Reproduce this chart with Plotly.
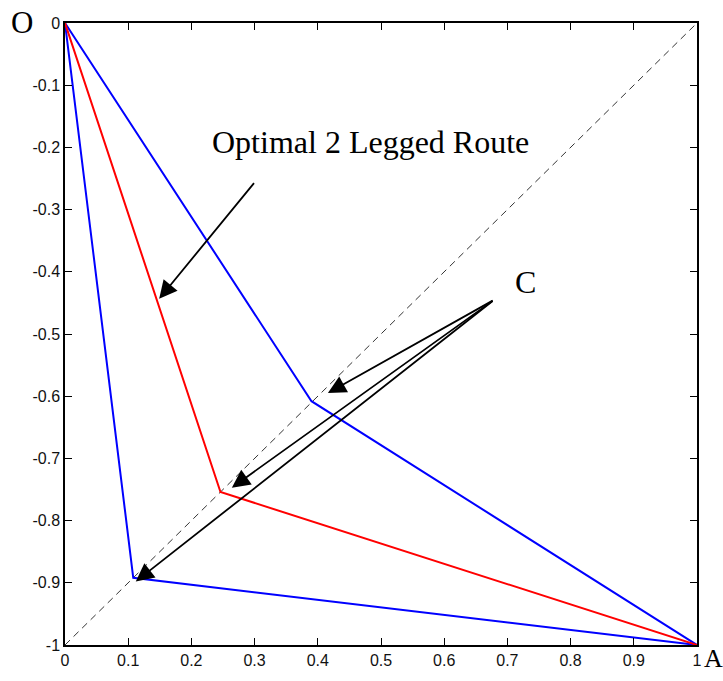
import plotly.graph_objects as go

# Data
blue_x = [0, 0.39, 1.0, 0.108, 0]
blue_y = [0, -0.608, -1.0, -0.892, 0]
red_x = [0, 0.246, 1.0]
red_y = [0, -0.754, -1.0]
diag_x = [0, 1]
diag_y = [-1, 0]

x_ticks = [0, 0.1, 0.2, 0.3, 0.4, 0.5, 0.6, 0.7, 0.8, 0.9, 1]
x_ticktext = ["0", "0.1", "0.2", "0.3", "0.4", "0.5", "0.6", "0.7", "0.8", "0.9", "1"]
y_ticks = [0, -0.1, -0.2, -0.3, -0.4, -0.5, -0.6, -0.7, -0.8, -0.9, -1]
y_ticktext = ["0", "-0.1", "-0.2", "-0.3", "-0.4", "-0.5", "-0.6", "-0.7", "-0.8", "-0.9", "-1"]

# Arrows: (tail_x, tail_y, tip_x, tip_y)
route_arrow = (0.301, -0.255, 0.149, -0.4435)
c_tail = (0.679, -0.445)
c_tips_x = [0.416, 0.264, 0.112]
c_tips_y = [-0.595, -0.747, -0.898]

fig = go.Figure()
fig.add_trace(go.Scatter(x=diag_x, y=diag_y, mode="lines",
                         line=dict(color="black", width=0.8, dash="7px,5px"),
                         hoverinfo="skip", showlegend=False))
fig.add_trace(go.Scatter(x=blue_x, y=blue_y, mode="lines",
                         line=dict(color="#0000FF", width=2),
                         showlegend=False))
fig.add_trace(go.Scatter(x=red_x, y=red_y, mode="lines",
                         line=dict(color="#FF0000", width=2),
                         showlegend=False))

serif = "Liberation Serif, Times New Roman, serif"
annotations = []
def arrow(tx, ty, hx, hy):
    return dict(x=hx, y=hy, ax=tx, ay=ty, xref="x", yref="y", axref="x", ayref="y",
                text="", showarrow=True, arrowhead=2, arrowsize=2.0, arrowwidth=1.8,
                arrowcolor="black", standoff=0, startstandoff=0)

annotations.append(arrow(*route_arrow))
for hx, hy in zip(c_tips_x, c_tips_y):
    annotations.append(arrow(c_tail[0], c_tail[1], hx, hy))

annotations += [
    dict(x=0.4826, y=-0.1915, xref="x", yref="y", text="Optimal 2 Legged Route",
         xanchor="center", yanchor="middle",
         showarrow=False, font=dict(family=serif, size=32, color="black")),
    dict(x=0.728, y=-0.416, xref="x", yref="y", text="C",
         xanchor="center", yanchor="middle",
         showarrow=False, font=dict(family=serif, size=32, color="black")),
    dict(x=-0.0685, y=1.0016, xref="paper", yref="paper", text="O",
         xanchor="center", yanchor="middle",
         showarrow=False, font=dict(family=serif, size=31, color="black")),
    dict(x=1.0095, y=-0.0222, xref="paper", yref="paper", text="A",
         xanchor="left", yanchor="middle", borderpad=0,
         showarrow=False, font=dict(family=serif, size=26, color="black")),
]

axis_common = dict(showgrid=False, zeroline=False, showline=True, linecolor="black",
                   linewidth=1.5, mirror="ticks", ticks="inside", ticklen=7,
                   tickcolor="black", tickwidth=1,
                   tickfont=dict(family="Liberation Sans, Arial, sans-serif", size=16, color="#111111"))

fig.update_layout(
    width=723, height=681,
    margin=dict(l=65, r=26, t=23, b=26),
    plot_bgcolor="white", paper_bgcolor="white",
    xaxis=dict(range=[0, 1], tickvals=x_ticks, ticktext=x_ticktext, ticklabelstandoff=0, **axis_common),
    yaxis=dict(range=[-1, 0], tickvals=y_ticks, ticktext=y_ticktext, ticklabelstandoff=0, **axis_common),
    annotations=annotations,
)

fig.write_html("out.html",
               config={"displayModeBar": False},
               post_script="document.body.style.margin='0';"
                           "document.documentElement.style.overflow='hidden';")
